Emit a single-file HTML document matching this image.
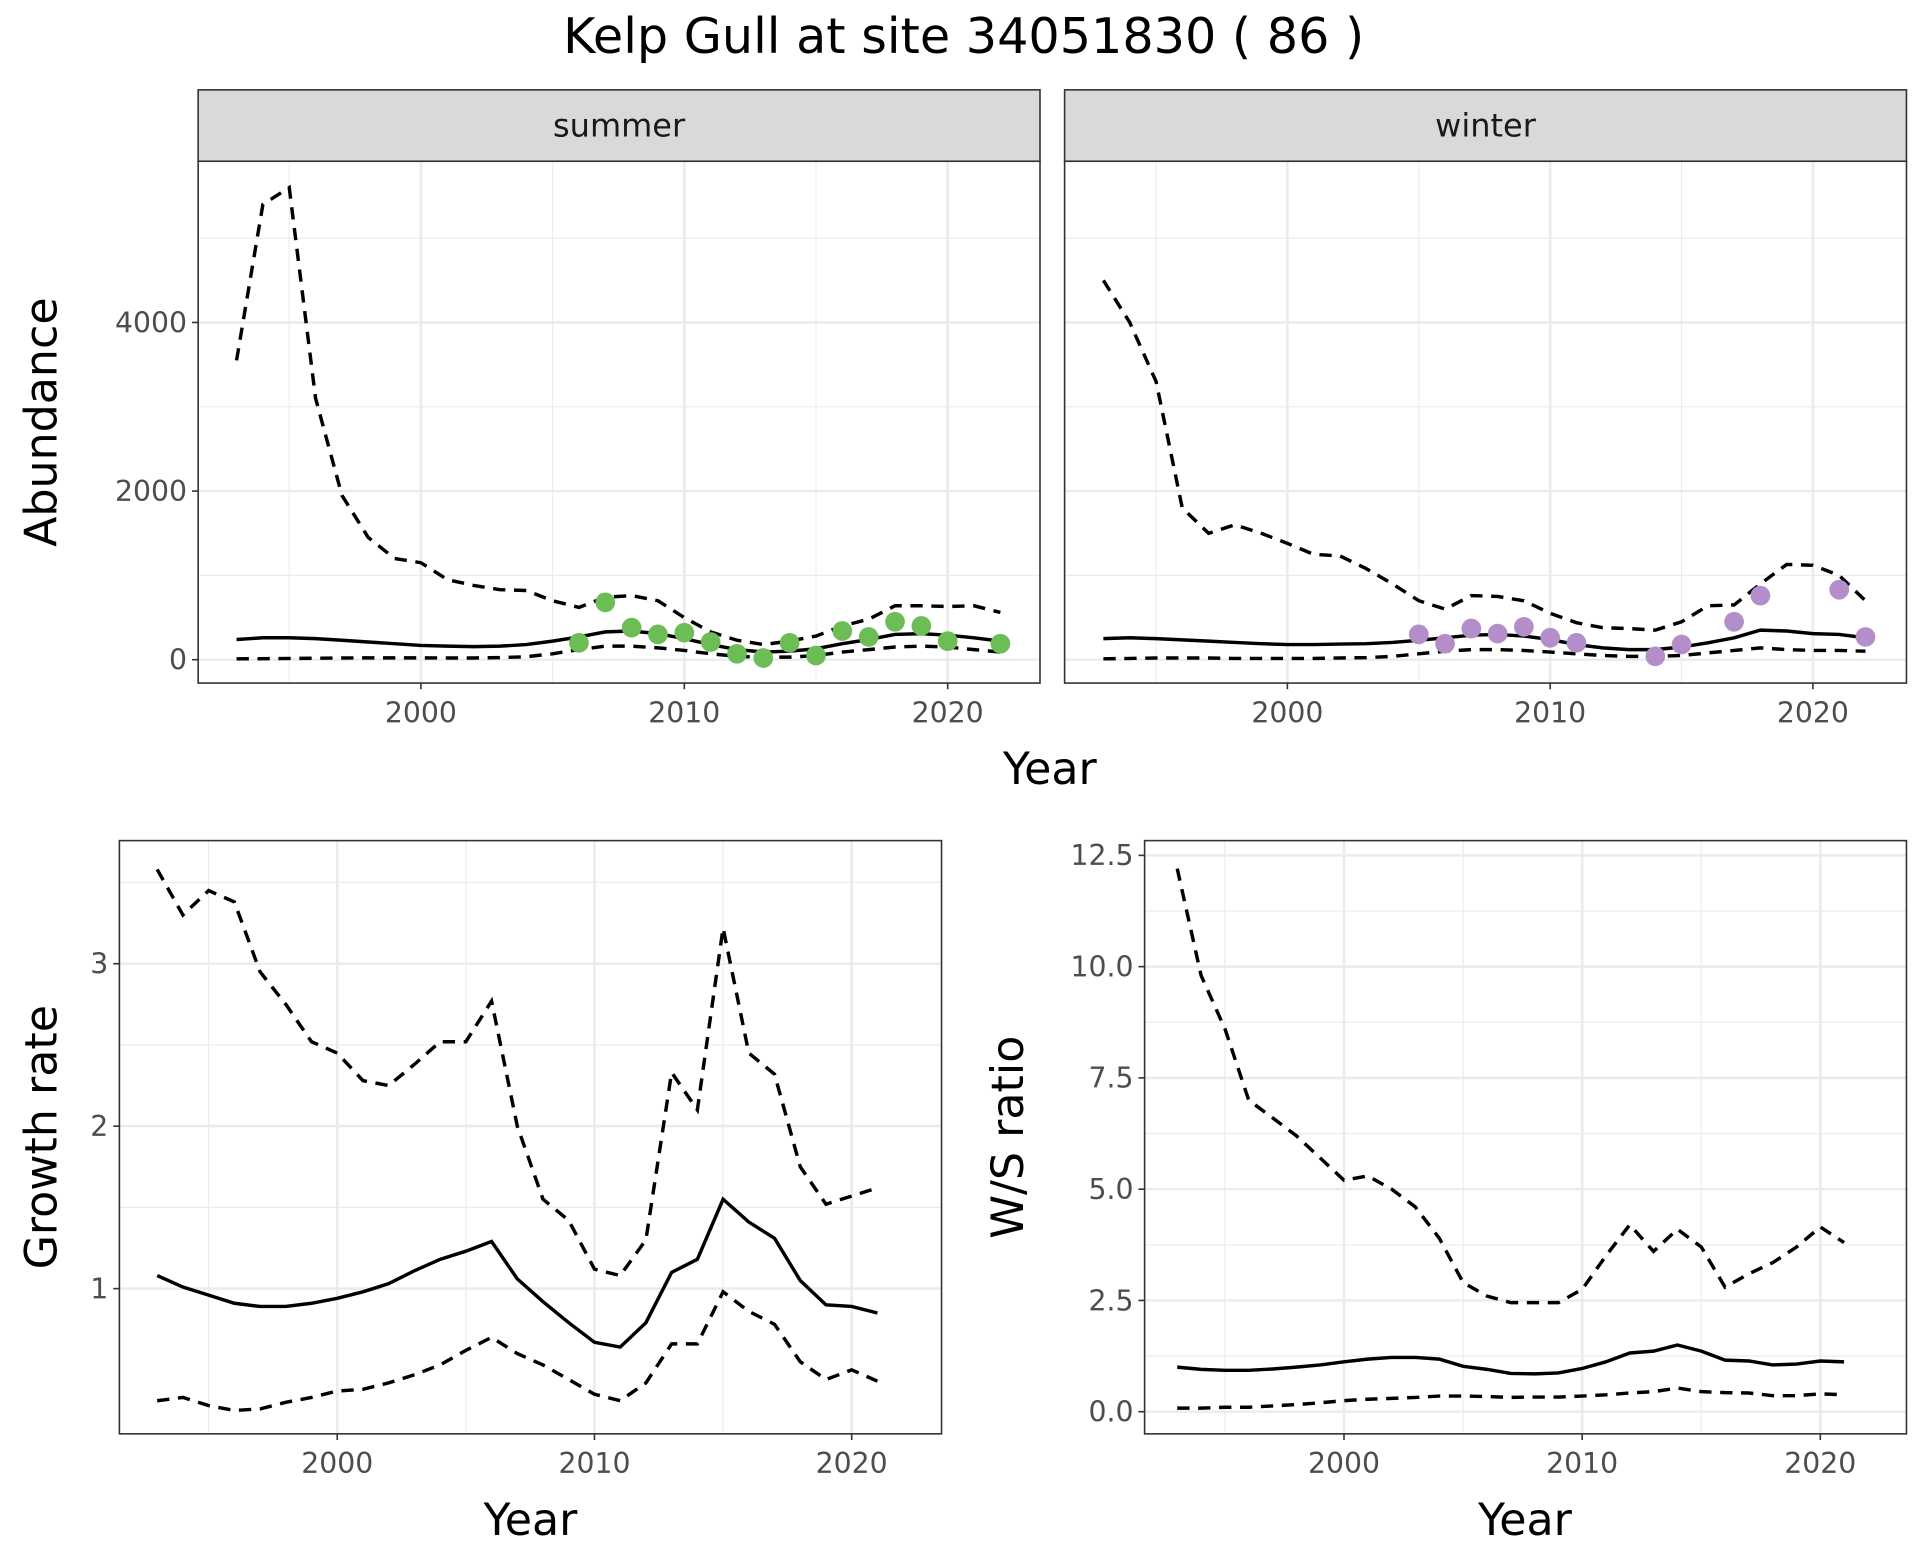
<!DOCTYPE html>
<html><head><meta charset="utf-8"><style>
html,body{margin:0;padding:0;background:#fff}
svg{display:block}
text{font-family:"DejaVu Sans","Liberation Sans",sans-serif}
</style></head><body>
<svg id="chart" width="1920" height="1560" viewBox="0 0 1560 1267.5" xmlns="http://www.w3.org/2000/svg">
<text x="783" y="43" text-anchor="middle" font-size="40">Kelp Gull at site 34051830 ( 86 )</text>
</svg>
<script>
const yearsA = [1993,1994,1995,1996,1997,1998,1999,2000,2001,2002,2003,2004,2005,2006,2007,2008,2009,2010,2011,2012,2013,2014,2015,2016,2017,2018,2019,2020,2021,2022];
const sumUpper = [3550,5400,5600,3100,1950,1450,1200,1150,950,880,830,820,700,620,740,760,700,500,330,230,180,220,280,400,480,640,640,630,640,560];
const sumMid = [240,260,260,250,230,210,190,170,160,155,160,180,220,270,330,340,310,250,180,120,90,100,130,190,240,300,310,290,260,220];
const sumLow = [10,12,14,18,20,22,22,22,20,20,25,35,70,120,160,160,140,110,70,40,30,30,50,90,120,150,160,150,120,90];
const sumPtYears = [2006,2007,2008,2009,2010,2011,2012,2013,2014,2015,2016,2017,2018,2019,2020,2022];
const sumPtVals = [200,680,380,300,320,210,70,20,200,50,340,270,450,400,220,190];
const winUpper = [4500,4000,3300,1800,1500,1600,1500,1380,1250,1230,1080,900,700,600,760,750,700,550,440,380,370,350,450,640,650,900,1130,1120,1000,700];
const winMid = [250,260,250,235,220,205,190,180,180,185,190,205,230,260,290,300,280,240,180,140,120,120,150,200,260,350,340,310,300,260];
const winLow = [10,15,20,20,20,15,15,15,15,20,25,40,70,100,120,120,110,90,70,50,40,40,50,80,110,140,120,110,110,100];
const winPtYears = [2005,2006,2007,2008,2009,2010,2011,2014,2015,2017,2018,2021,2022];
const winPtVals = [300,190,370,310,390,260,200,40,180,450,760,830,270];
const yearsB = [1993,1994,1995,1996,1997,1998,1999,2000,2001,2002,2003,2004,2005,2006,2007,2008,2009,2010,2011,2012,2013,2014,2015,2016,2017,2018,2019,2020,2021];
const grUpper = [3.58,3.3,3.45,3.38,2.95,2.75,2.52,2.45,2.28,2.25,2.38,2.52,2.52,2.77,2.0,1.55,1.42,1.12,1.08,1.3,2.33,2.1,3.22,2.45,2.32,1.75,1.52,1.57,1.62];
const grMid = [1.08,1.01,0.96,0.91,0.89,0.89,0.91,0.94,0.98,1.03,1.11,1.18,1.23,1.29,1.06,0.92,0.79,0.67,0.64,0.79,1.1,1.18,1.55,1.41,1.31,1.05,0.9,0.89,0.85];
const grLow = [0.31,0.33,0.28,0.25,0.26,0.3,0.33,0.37,0.38,0.42,0.47,0.53,0.62,0.7,0.6,0.53,0.44,0.35,0.31,0.42,0.66,0.66,0.98,0.86,0.78,0.55,0.44,0.5,0.43];
const wsUpper = [12.2,9.8,8.6,7.0,6.6,6.2,5.7,5.2,5.3,5.0,4.6,3.9,2.9,2.6,2.45,2.45,2.45,2.75,3.5,4.2,3.6,4.1,3.7,2.8,3.1,3.35,3.7,4.15,3.8];
const wsMid = [1.0,0.95,0.93,0.93,0.96,1.0,1.05,1.12,1.18,1.22,1.22,1.18,1.02,0.95,0.86,0.85,0.87,0.97,1.12,1.32,1.36,1.5,1.36,1.16,1.14,1.05,1.07,1.14,1.12];
const wsLow = [0.08,0.08,0.1,0.1,0.13,0.16,0.2,0.25,0.28,0.3,0.32,0.35,0.35,0.34,0.32,0.33,0.33,0.35,0.38,0.42,0.45,0.53,0.45,0.43,0.42,0.36,0.36,0.4,0.38];
const xTicks = [2000,2010,2020];
const xMinor = [1995,2005,2015];
const abTicks = [0,2000,4000];
const abMinor = [1000,3000,5000];
const grTicks = [1,2,3];
const grMinor = [1.5,2.5,3.5];
const wsTicks = [0,2.5,5,7.5,10,12.5];
const wsTickLabels = ["0.0","2.5","5.0","7.5","10.0","12.5"];
const wsMinor = [1.25,3.75,6.25,8.75,11.25];

const svg = document.getElementById('chart');
const NS = 'http://www.w3.org/2000/svg';
function mk(tag, attrs, parent){const e=document.createElementNS(NS,tag);for(const k in attrs)e.setAttribute(k,attrs[k]);(parent||svg).appendChild(e);return e;}
function lin(d0,d1,r0,r1){return v=>r0+(v-d0)*(r1-r0)/(d1-d0);}

function panel(name,L,T,R,B,xs,ys,opt){
  const g=mk('g',{});
  
  
  mk('rect',{x:L,y:T,width:R-L,height:B-T,fill:'#fff'},g);
  opt.yMinor.forEach(v=>{const y=ys(v);if(y>T&&y<B){const l=mk('line',{x1:L,x2:R,y1:y,y2:y,stroke:'#ebebeb','stroke-width':0.9},g);}});
  xMinor.forEach(v=>{const x=xs(v);const l=mk('line',{x1:x,x2:x,y1:T,y2:B,stroke:'#ebebeb','stroke-width':0.9},g);});
  opt.yTicks.forEach(v=>{const y=ys(v);const l=mk('line',{x1:L,x2:R,y1:y,y2:y,stroke:'#ebebeb','stroke-width':2},g);});
  xTicks.forEach(v=>{const x=xs(v);const l=mk('line',{x1:x,x2:x,y1:T,y2:B,stroke:'#ebebeb','stroke-width':2},g);});
  opt.lines.forEach(s=>{
    const pts=s.yrs.map((yr,i)=>xs(yr).toFixed(1)+','+ys(s.v[i]).toFixed(1)).join(' ');
    const p=mk('polyline',{points:pts,fill:'none',stroke:'#000','stroke-width':2.8,'stroke-dasharray':s.dash?'10,7':'none'},g);
    
    
  });
  if(opt.pts){opt.pts.yrs.forEach((yr,i)=>{const c=mk('circle',{cx:xs(yr),cy:ys(opt.pts.v[i]),r:8,fill:opt.pts.col},g);});}
  mk('rect',{x:L,y:T,width:R-L,height:B-T,fill:'none',stroke:'#333','stroke-width':1.3},g);
  xTicks.forEach(v=>{const x=xs(v);mk('line',{x1:x,x2:x,y1:B,y2:B+5,stroke:'#333','stroke-width':1.3},g);
    const t=mk('text',{x:x,y:B+32,'text-anchor':'middle','font-size':23,fill:'#4d4d4d'},g);t.textContent=v;});
  if(opt.yLabels){opt.yTicks.forEach((v,i)=>{const y=ys(v);mk('line',{x1:L-5,x2:L,y1:y,y2:y,stroke:'#333','stroke-width':1.3},g);
    const t=mk('text',{x:L-9,y:y+8,'text-anchor':'end','font-size':23,fill:'#4d4d4d'},g);t.textContent=opt.yLabels[i];});}
  if(opt.strip){const r=mk('rect',{x:L,y:73,width:R-L,height:T-73,fill:'#d9d9d9',stroke:'#333','stroke-width':1.3},g);
    const t=mk('text',{x:(L+R)/2,y:111,'text-anchor':'middle','font-size':26,fill:'#1a1a1a'},g);t.textContent=opt.strip;}
}
const ysA=lin(0,4000,536,262);
const xsS=lin(2000,2020,342,770), xsW=lin(2000,2020,1046,1473);
panel('summer',161,131,845,555,xsS,ysA,{yTicks:abTicks,yMinor:abMinor,yLabels:abTicks.map(String),strip:'summer',
  lines:[{yrs:yearsA,v:sumUpper,dash:1,name:'summer-upper-ci'},{yrs:yearsA,v:sumMid,name:'summer-estimate'},{yrs:yearsA,v:sumLow,dash:1,name:'summer-lower-ci'}],
  pts:{yrs:sumPtYears,v:sumPtVals,col:'#6dbd56'}});
panel('winter',865,131,1549,555,xsW,ysA,{yTicks:abTicks,yMinor:abMinor,yLabels:null,strip:'winter',
  lines:[{yrs:yearsA,v:winUpper,dash:1,name:'winter-upper-ci'},{yrs:yearsA,v:winMid,name:'winter-estimate'},{yrs:yearsA,v:winLow,dash:1,name:'winter-lower-ci'}],
  pts:{yrs:winPtYears,v:winPtVals,col:'#b48ec8'}});
const xsG=lin(2000,2020,274,692), ysG=lin(1,3,1047,783);
panel('growth',97,683,765,1165,xsG,ysG,{yTicks:grTicks,yMinor:grMinor,yLabels:grTicks.map(String),
  lines:[{yrs:yearsB,v:grUpper,dash:1,name:'growth-upper-ci'},{yrs:yearsB,v:grMid,name:'growth-estimate'},{yrs:yearsB,v:grLow,dash:1,name:'growth-lower-ci'}]});
const xsR=lin(2000,2020,1092,1479), ysR=lin(0,12.5,1147,695);
panel('ratio',930,683,1549,1165,xsR,ysR,{yTicks:wsTicks,yMinor:wsMinor,yLabels:wsTickLabels,
  lines:[{yrs:yearsB,v:wsUpper,dash:1,name:'ratio-upper-ci'},{yrs:yearsB,v:wsMid,name:'ratio-estimate'},{yrs:yearsB,v:wsLow,dash:1,name:'ratio-lower-ci'}]});
function title(txt,x,y,rot,name){const t=mk('text',{x:x,y:y,'text-anchor':'middle','font-size':36,fill:'#000',transform:rot?`rotate(-90 ${x} ${y})`:''});t.textContent=txt;}
title('Year',853,637,0,'top-x-axis-title');
title('Abundance',46,343,1,'abundance-axis-title');
title('Year',431,1247,0,'growth-x-axis-title');
title('Year',1239,1247,0,'ratio-x-axis-title');
title('Growth rate',46,924,1,'growth-axis-title');
title('W/S ratio',831,924,1,'ratio-axis-title');
</script>
</body></html>
